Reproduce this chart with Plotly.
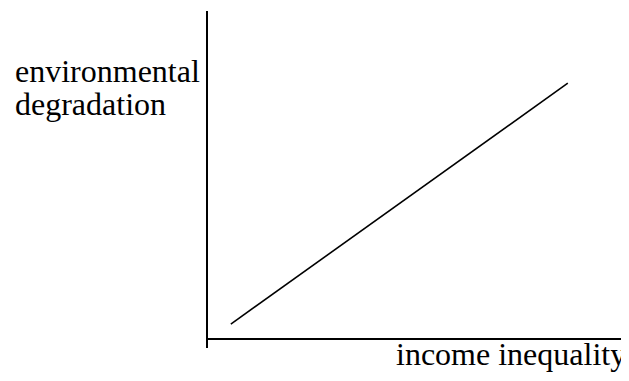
import plotly.graph_objects as go

# endpoints of the straight relationship (arbitrary units)
income_inequality = [0.55, 8.67]
environmental_degradation = [0.46, 7.80]

x_label = "income inequality"
y_label_lines = ["environmental", "degradation"]

fig = go.Figure()

fig.add_trace(go.Scatter(
    x=income_inequality,
    y=environmental_degradation,
    mode="lines",
    line=dict(color="black", width=1.6),
    showlegend=False,
    hoverinfo="skip",
))

serif = dict(family="Liberation Serif, Times New Roman, serif", size=32, color="black")

# y label, one annotation per line to control spacing
for txt, ypos in zip(y_label_lines, [0.822, 0.724]):
    fig.add_annotation(
        text=txt, xref="paper", yref="paper", x=-0.47, y=ypos,
        xanchor="left", yanchor="middle", showarrow=False, font=serif,
    )

fig.add_annotation(
    text=x_label, xref="paper", yref="paper", x=1.012, y=-0.018,
    xanchor="right", yanchor="middle", showarrow=False, font=serif,
)

# page body has an 8px margin, so the figure is 8px smaller than the window
fig.update_layout(
    width=621,
    height=373,
    margin=dict(l=200, r=6, t=3, b=33),
    plot_bgcolor="white",
    paper_bgcolor="white",
    xaxis=dict(range=[0, 10], showgrid=False, zeroline=False, showline=False,
               showticklabels=False, ticks=""),
    yaxis=dict(range=[-0.27, 10], showgrid=False, zeroline=True,
               zerolinecolor="black", zerolinewidth=1.6,
               showline=True, linecolor="black", linewidth=1.8,
               showticklabels=False, ticks=""),
)

fig.write_html("out.html")
